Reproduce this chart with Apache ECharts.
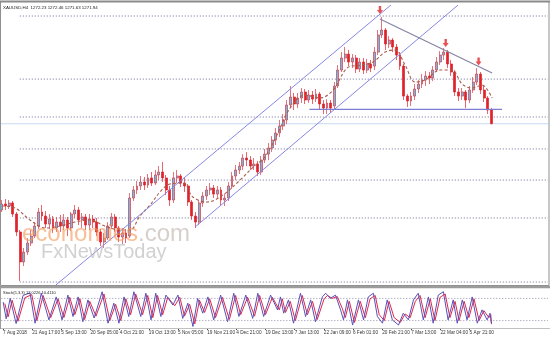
<!DOCTYPE html>
<html><head><meta charset="utf-8">
<script src="https://cdn.jsdelivr.net/npm/echarts@6/dist/echarts.min.js"></script>
<style>html,body{margin:0;padding:0;background:#fff}#c{width:550px;height:340px}</style>
</head><body><div id="c"></div>
<script>
// ---- data (XAUUSD H4, grouped candles) ----
const tickLabels = ["7 Aug 2018","21 Aug 17:00","5 Sep 13:00","20 Sep 05:00","4 Oct 21:00","19 Oct 13:00","5 Nov 05:00","19 Nov 21:00","4 Dec 21:00","19 Dec 13:00","7 Jan 13:00","22 Jan 09:00","6 Feb 01:00","20 Feb 21:00","7 Mar 13:00","22 Mar 04:00","5 Apr 21:00"];
const candleOpen = [
1210.9,1215.2,1213.8,1215.9,1208.1,1195.4,1174.2,1181.2,1187.6,1192.5,
1199.6,1209.5,1206.7,1201.0,1204.6,1198.2,1202.4,1199.6,1203.9,1198.2,
1208.1,1210.9,1203.9,1206.0,1200.3,1204.6,1202.4,1195.4,1188.3,1191.1,
1199.6,1206.0,1198.2,1191.8,1194.7,1192.5,1219.4,1225.1,1227.9,1230.7,
1228.6,1233.6,1230.0,1235.7,1237.8,1233.6,1225.1,1218.0,1233.6,1235.0,
1230.0,1227.9,1216.6,1206.7,1202.4,1215.9,1220.8,1225.1,1226.5,1222.2,
1225.1,1218.0,1219.4,1227.9,1235.0,1239.2,1242.0,1247.7,1246.3,1242.0,
1243.5,1237.8,1246.3,1250.5,1254.8,1260.4,1265.4,1270.3,1274.6,1285.2,
1290.8,1285.9,1290.1,1294.4,1288.7,1292.2,1289.4,1292.9,1285.9,1283.0,
1286.6,1284.5,1298.6,1309.9,1318.4,1321.2,1315.6,1318.4,1310.6,1315.6,
1309.9,1314.2,1312.7,1322.6,1334.7,1338.2,1328.3,1331.1,1326.2,1320.5,
1312.7,1291.5,1288.0,1291.5,1296.5,1300.0,1302.8,1305.7,1304.3,1309.9,
1315.6,1320.5,1322.6,1314.2,1308.5,1294.4,1291.5,1294.4,1288.7,1295.8,
1301.4,1307.1,1295.8,1290.1,1281.6];
const candleClose = [
1215.2,1213.8,1215.9,1208.1,1195.4,1174.2,1181.2,1187.6,1192.5,1199.6,
1209.5,1206.7,1201.0,1204.6,1198.2,1202.4,1199.6,1203.9,1198.2,1208.1,
1210.9,1203.9,1206.0,1200.3,1204.6,1202.4,1195.4,1188.3,1191.1,1199.6,
1206.0,1198.2,1191.8,1194.7,1191.1,1219.4,1225.1,1227.9,1230.7,1228.6,
1233.6,1230.0,1235.7,1237.8,1233.6,1225.1,1218.0,1233.6,1235.0,1230.0,
1227.9,1216.6,1206.7,1202.4,1215.9,1220.8,1225.1,1226.5,1222.2,1225.1,
1218.0,1219.4,1227.9,1235.0,1239.2,1242.0,1247.7,1246.3,1242.0,1243.5,
1237.8,1246.3,1250.5,1254.8,1260.4,1265.4,1270.3,1274.6,1285.2,1290.8,
1285.9,1290.1,1294.4,1288.7,1292.2,1289.4,1292.9,1285.9,1283.0,1286.6,
1283.0,1298.6,1309.9,1318.4,1321.2,1315.6,1318.4,1310.6,1315.6,1309.9,
1314.2,1311.3,1322.6,1334.7,1338.2,1328.3,1331.1,1326.2,1320.5,1312.7,
1291.5,1288.0,1291.5,1296.5,1300.0,1302.8,1305.7,1304.3,1309.9,1315.6,
1320.5,1322.6,1314.2,1308.5,1294.4,1291.5,1294.4,1288.7,1295.8,1301.4,
1307.1,1295.8,1290.1,1281.6,1271.94];
const candleLow = [
1209.5,1210.9,1211.6,1206.0,1192.5,1160.7,1171.3,1179.1,1185.5,1191.1,
1197.5,1203.2,1198.2,1197.5,1194.7,1195.4,1195.4,1196.8,1192.5,1196.1,
1205.3,1200.3,1198.2,1196.8,1196.8,1198.2,1192.5,1185.5,1184.1,1189.7,
1197.5,1195.4,1188.3,1186.9,1187.6,1191.1,1217.3,1222.2,1225.1,1225.1,
1226.5,1227.9,1228.6,1232.1,1230.7,1221.5,1213.8,1215.9,1230.0,1227.2,
1223.7,1213.8,1203.9,1198.2,1200.3,1213.1,1218.0,1221.5,1219.4,1219.4,
1213.8,1213.8,1217.3,1225.8,1232.1,1236.4,1239.2,1242.0,1239.2,1239.2,
1235.0,1235.7,1244.2,1246.3,1251.9,1256.9,1262.5,1267.5,1271.7,1283.0,
1281.6,1283.0,1286.6,1285.9,1286.6,1285.9,1287.3,1282.3,1278.8,1278.8,
1279.5,1282.3,1297.2,1308.5,1315.6,1312.7,1311.3,1307.8,1308.5,1307.1,
1307.8,1308.5,1309.9,1320.5,1332.5,1324.1,1325.5,1322.6,1317.0,1309.9,
1288.7,1283.8,1284.5,1288.7,1293.7,1297.2,1298.6,1300.0,1302.1,1308.5,
1313.4,1317.0,1311.3,1305.7,1291.5,1288.0,1288.7,1283.0,1286.6,1293.7,
1299.3,1292.9,1287.3,1278.8,1271.63];
const candleHigh = [
1218.0,1218.7,1218.0,1217.3,1209.5,1196.8,1184.1,1191.1,1196.8,1202.4,
1212.4,1214.5,1210.2,1208.1,1206.7,1206.0,1207.4,1208.1,1206.0,1209.5,
1214.5,1213.1,1208.8,1208.1,1208.1,1207.4,1205.3,1197.5,1194.7,1202.4,
1208.8,1208.1,1199.6,1198.2,1197.5,1222.9,1227.9,1231.4,1235.0,1234.3,
1236.4,1237.8,1239.2,1242.0,1244.9,1235.7,1227.9,1237.8,1239.2,1236.4,
1233.6,1229.3,1218.0,1209.5,1218.0,1223.7,1227.9,1230.0,1228.6,1227.9,
1227.2,1222.2,1230.7,1237.8,1242.8,1244.9,1250.5,1251.9,1249.1,1247.7,
1245.6,1249.1,1254.1,1258.3,1263.2,1268.9,1274.6,1278.8,1288.7,1298.6,
1293.7,1293.7,1297.2,1296.5,1295.8,1295.1,1296.5,1294.4,1288.7,1289.4,
1288.7,1301.4,1313.4,1322.6,1326.2,1324.1,1321.2,1320.5,1318.4,1318.4,
1317.7,1317.0,1326.2,1338.2,1347.4,1339.6,1333.9,1332.5,1328.3,1322.6,
1314.2,1292.9,1294.4,1300.0,1302.8,1307.1,1309.2,1308.5,1312.7,1319.1,
1323.3,1325.5,1324.1,1317.0,1309.9,1297.2,1297.2,1295.8,1298.6,1305.0,
1311.3,1308.5,1298.6,1291.5,1283.0];
// dashed moving average, read at points [candle index, price]
const maPoints = [[0,1213.8],[3.6,1212.4],[7.7,1203.9],[11.8,1198.2],[15.9,1199.6],[20,1202.4],[24.1,1203.9],[28.2,1199.6],[32.4,1196.8],[35.1,1196.8],[37.8,1206.7],[40.6,1214.5],[43.3,1223.7],[46,1229.3],[49.6,1230.0],[52.3,1220.1],[56.2,1216.6],[60.5,1221.5],[65.2,1232.1],[68.8,1241.3],[72,1248.4],[75.3,1263.9],[78.9,1283.0],[83,1292.2],[87.1,1290.1],[90.7,1295.8],[94.5,1311.3],[98.1,1313.4],[101.6,1315.6],[104.9,1322.6],[107.6,1324.1],[110.4,1313.4],[113.1,1301.4],[115.8,1302.8],[120,1309.9],[123.2,1309.9],[126,1300.0],[128.7,1297.2],[131.4,1299.3],[134.2,1290.1]];
// horizontal dotted levels (price) and current bid
const levelPrices = [1348.1, 1303.5, 1276.7, 1254.1, 1232.1, 1205.3, 1160.0];
const levelSpan = [4.9, 149.5];
const bidPrice = 1271.94;
// drawn trend lines: [candle index, price]
const channelUpper = [[14.8,1157.9],[106.5,1355.9]];
const channelLower = [[52.9,1198.9],[124.9,1355.9]];
const resistanceLine = [[103.5,1346.0],[134.2,1307.8]];
const necklineLine = [[84.2,1282.1],[136.9,1282.1]];
const peakArrows = [[103.5,1352.3],[121.5,1329.0],[130.5,1315.9]];
// Stochastic (5,3,3) turning points [candle index, value]
const stochMain = [[0.05,70],[0.87,25],[1.96,80],[3.6,12],[5.5,88],[7.4,95],[8.8,13],[10.5,94],[12.6,22],[14.6,84],[16.2,22],[17.8,89],[19.2,31],[20.6,84],[21.9,17],[23.3,76],[25,27],[27.2,98],[28.8,13],[30.4,67],[31.8,13],[33.2,84],[34.5,31],[35.9,98],[37.8,31],[39.2,94],[40.6,22],[41.9,94],[43.3,31],[44.7,89],[46.6,62],[48,89],[49.3,26],[50.7,67],[52.1,4],[53.4,80],[54.8,40],[56.2,84],[57.8,22],[59.7,89],[61.6,17],[63.3,94],[64.7,31],[66.6,89],[68.5,26],[69.9,94],[71.5,31],[73.4,89],[75.3,49],[76.1,84],[77,40],[78.3,76],[79.7,13],[81.6,94],[83,31],[84.4,76],[85.7,17],[87.6,84],[88.5,94],[89.8,80],[91.2,89],[92.6,49],[93.4,22],[94.5,76],[95.9,8],[97.5,76],[98.9,22],[100.2,84],[101.6,94],[102.7,31],[104.1,13],[105.4,76],[106.8,22],[108.5,8],[109.8,40],[111.2,22],[112.6,76],[113.9,94],[115.3,22],[116.7,84],[118,13],[119.4,89],[120.8,98],[122.1,22],[123.5,76],[124.6,13],[126,76],[127.3,22],[128.7,84],[130.1,13],[131.4,49],[132.8,22],[133.6,40],[134,12]];
const stochSignal = [[0.5,66],[1.4,30],[2.5,75],[4.1,18],[6,82],[7.9,90],[9.3,20],[11,88],[13.1,28],[15.1,79],[16.7,28],[18.3,83],[19.7,36],[21.1,79],[22.4,23],[23.8,72],[25.5,32],[27.7,92],[29.3,20],[30.9,64],[32.3,20],[33.7,79],[35,36],[36.4,92],[38.3,36],[39.7,88],[41.1,28],[42.4,88],[43.8,36],[45.2,83],[47.1,60],[48.5,83],[49.8,32],[51.2,64],[52.6,11],[53.9,75],[55.3,42],[56.7,79],[58.3,28],[60.2,83],[62.1,23],[63.8,88],[65.2,36],[67.1,83],[69,32],[70.4,88],[72,36],[73.9,83],[75.8,49],[76.6,79],[77.5,42],[78.8,72],[80.2,20],[82.1,88],[83.5,36],[84.9,72],[86.2,23],[88.1,79],[89,88],[90.3,80],[91.7,85],[93.1,52],[93.9,28],[95,72],[96.4,15],[98,72],[99.4,28],[100.7,79],[102.1,88],[103.2,36],[104.6,20],[105.9,72],[107.3,28],[109,15],[110.3,38],[111.7,28],[113.1,72],[114.4,88],[115.8,28],[117.2,79],[118.5,20],[119.9,83],[121.3,92],[122.6,28],[124,72],[125.1,20],[126.5,72],[127.8,28],[129.2,79],[130.6,20],[131.9,47],[133.3,28],[133.8,36],[134,10.4]];
const stochLevels = [80, 20];
const headerText = "XAUUSD,H4  1272.23 1272.46 1271.63 1271.94";
const stochText = "Stoch(5,3,3) 12.0226 10.4110";

// ---- build ----
const N = 150, STEP = 8;
const cats = Array.from({length: N}, (_, i) => String(i));
const candles = candleOpen.map((o, i) => [o, candleClose[i], candleLow[i], candleHigh[i]]);
const isTick = (i) => i % STEP === 0 && i / STEP < tickLabels.length;
const lineSeries = (pts, color, width, type, z) => ({
  type: 'line', xAxisIndex: 1, yAxisIndex: 0, data: pts, symbol: 'none', silent: true, z: z || 3,
  lineStyle: {color, width, type: type || 'solid'}, animation: false
});
const series = [];
levelPrices.forEach(p => series.push(lineSeries([[levelSpan[0], p], [levelSpan[1], p]], '#8484aa', 1, [1.2, 1.8], 1)));
series.push(lineSeries([[-0.5, bidPrice], [149.5, bidPrice]], '#c6dcf2', 1, 'solid', 1));
series.push({
  type: 'candlestick', xAxisIndex: 0, yAxisIndex: 0, data: candles, barWidth: '66%', z: 2,
  itemStyle: {color: '#6cbbe6', color0: '#e0222b', borderColor: '#d63a45', borderColor0: '#e0222b', borderWidth: 0.7}
});
series.push(Object.assign(lineSeries(maPoints, '#a85c4a', 1.1, [3, 2.2], 3), {smooth: 0.35}));
series.push(lineSeries(channelUpper, '#8787e2', 1, 'solid', 4));
series.push(lineSeries(channelLower, '#8787e2', 1, 'solid', 4));
series.push(lineSeries(resistanceLine, '#8484a6', 1.2, 'solid', 4));
series.push(lineSeries(necklineLine, '#7c7cd2', 1.2, 'solid', 4));
series.push({
  type: 'scatter', xAxisIndex: 1, yAxisIndex: 0, data: peakArrows, z: 6, silent: true,
  symbol: 'path://M3,0 L7,0 L7,6 L10,6 L5,12 L0,6 L3,6 Z', symbolSize: [6, 8],
  itemStyle: {color: '#e3262b'}
});
stochLevels.forEach(v => series.push({
  type: 'line', xAxisIndex: 3, yAxisIndex: 1, data: [[-0.5, v], [149.5, v]], symbol: 'none', silent: true, z: 1,
  lineStyle: {color: '#a0a0b8', width: 1, type: [1.2, 1.8]}
}));
series.push({type: 'line', xAxisIndex: 3, yAxisIndex: 1, data: stochSignal, symbol: 'none', z: 3,
  lineStyle: {color: '#e2264a', width: 1}});
series.push({type: 'line', xAxisIndex: 3, yAxisIndex: 1, data: stochMain, symbol: 'none', z: 4,
  lineStyle: {color: '#5a50b8', width: 1}});

const chart = echarts.init(document.getElementById('c'), null, {renderer: 'canvas'});
chart.setOption({
  animation: false,
  backgroundColor: '#ffffff',
  grid: [
    {left: 0, top: 5, width: 548, height: 280},
    {left: 0, top: 291, width: 548, height: 37}
  ],
  xAxis: [
    {type: 'category', gridIndex: 0, data: cats, boundaryGap: true, show: false},
    {type: 'value', gridIndex: 0, min: -0.5, max: 149.5, show: false},
    {type: 'category', gridIndex: 1, data: cats, boundaryGap: true,
      axisLine: {show: false},
      axisTick: {show: true, alignWithLabel: true, length: 2, interval: (i) => isTick(i), lineStyle: {color: '#444', width: 1}},
      axisLabel: {show: true, interval: (i) => isTick(i), formatter: (v, i) => tickLabels[i / STEP] || '',
        align: 'left', fontSize: 4.7, color: '#333', margin: 2, fontFamily: 'Liberation Sans'},
      splitLine: {show: false}},
    {type: 'value', gridIndex: 1, min: -0.5, max: 149.5, show: false}
  ],
  yAxis: [
    {type: 'value', gridIndex: 0, min: 1157.9, max: 1355.9, show: false},
    {type: 'value', gridIndex: 1, min: 0, max: 100, show: false}
  ],
  series: series,
  graphic: [
    {type: 'rect', silent: true, z: 100, shape: {x: 0.5, y: 1.5, width: 548.5, height: 284}, style: {fill: 'none', stroke: '#8f8f8f', lineWidth: 1}},
    {type: 'line', silent: true, z: 100, shape: {x1: 0, y1: 1.5, x2: 550, y2: 1.5}, style: {stroke: '#8a8a8a', lineWidth: 2}},
    {type: 'line', silent: true, z: 100, shape: {x1: 0, y1: 287, x2: 550, y2: 287}, style: {stroke: '#9c9c9c', lineWidth: 2.5}},
    {type: 'line', silent: true, z: 100, shape: {x1: 0, y1: 328.5, x2: 550, y2: 328.5}, style: {stroke: '#c0c0c0', lineWidth: 1}},
    {type: 'line', silent: true, z: 100, shape: {x1: 0.5, y1: 287, x2: 0.5, y2: 329}, style: {stroke: '#9c9c9c', lineWidth: 1}},
    {type: 'text', silent: true, z: 100, x: 3, y: 7.5, style: {text: headerText, fontSize: 4.4, fontFamily: 'Liberation Sans', fill: '#222', verticalAlign: 'middle'}},
    {type: 'text', silent: true, z: 100, x: 3, y: 292.5, style: {text: stochText, fontSize: 4, fontFamily: 'Liberation Sans', fill: '#222', verticalAlign: 'middle'}},
    {type: 'text', silent: true, z: 90, x: 22, y: 234, style: {text: 'economies', fontSize: 24, fontFamily: 'Liberation Sans', fill: 'rgba(244,152,86,0.62)', verticalAlign: 'middle'}},
    {type: 'text', silent: true, z: 90, x: 138, y: 234, style: {text: '.com', fontSize: 24, fontFamily: 'Liberation Sans', fill: 'rgba(205,195,188,0.8)', verticalAlign: 'middle'}},
    {type: 'text', silent: true, z: 90, x: 41, y: 252.5, style: {text: 'FxNewsToday', fontSize: 20, fontFamily: 'Liberation Sans', fill: 'rgba(190,190,190,0.7)', verticalAlign: 'middle'}}
  ]
});
</script></body></html>
